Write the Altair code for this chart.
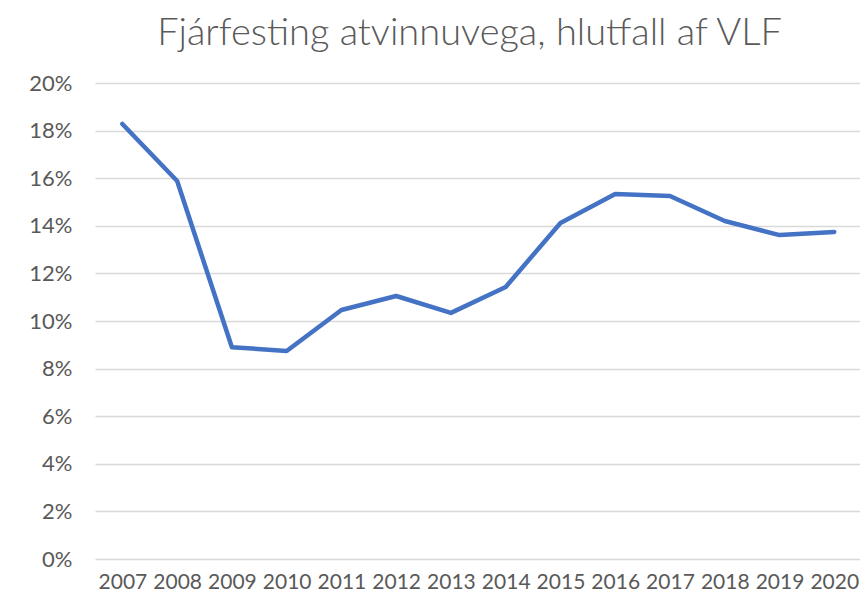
import altair as alt
import pandas as pd

years = [2007, 2008, 2009, 2010, 2011, 2012, 2013, 2014, 2015, 2016, 2017, 2018, 2019, 2020]
values = [18.28, 15.88, 8.90, 8.74, 10.46, 11.05, 10.34, 11.43, 14.12, 15.34, 15.25, 14.20, 13.61, 13.74]

df = pd.DataFrame({"year": years, "value": [v / 100 for v in values]})

FONT = "Lato"
GREY = "#595959"

chart = alt.Chart(df).mark_line(color="#4472C4", strokeWidth=4.5, strokeCap="round", strokeJoin="round").encode(
    x=alt.X("year:Q", scale=alt.Scale(domain=[2006.5, 2020.47], nice=False, zero=False),
            axis=alt.Axis(values=years, format="d", title=None, grid=False, ticks=False, domain=False,
                          labelFontSize=21, labelColor=GREY, labelFont=FONT, labelFontWeight=400,
                          labelPadding=12, labelFlush=False, labelOverlap=False)),
    y=alt.Y("value:Q", scale=alt.Scale(domain=[0, 0.2], nice=False),
            axis=alt.Axis(values=[i / 100 for i in range(0, 21, 2)], format=".0%", title=None,
                          grid=True, gridColor="#d9d9d9", gridWidth=1.5, ticks=False, domain=False,
                          labelFontSize=22, labelColor=GREY, labelFont=FONT, labelFontWeight=400,
                          labelPadding=23)),
).properties(
    width=765, height=476,
    title=alt.TitleParams("Fjárfesting atvinnuvega, hlutfall af VLF", font=FONT, fontSize=38,
                          fontWeight=300, color=GREY, anchor="middle", offset=19, dx=-8),
    autosize=alt.AutoSizeParams(type="none"),
    padding={"left": 87, "top": 75, "right": 0, "bottom": 42},
).configure_view(stroke=None)

chart.save("out.html", embed_options={"renderer": "svg", "actions": False})
